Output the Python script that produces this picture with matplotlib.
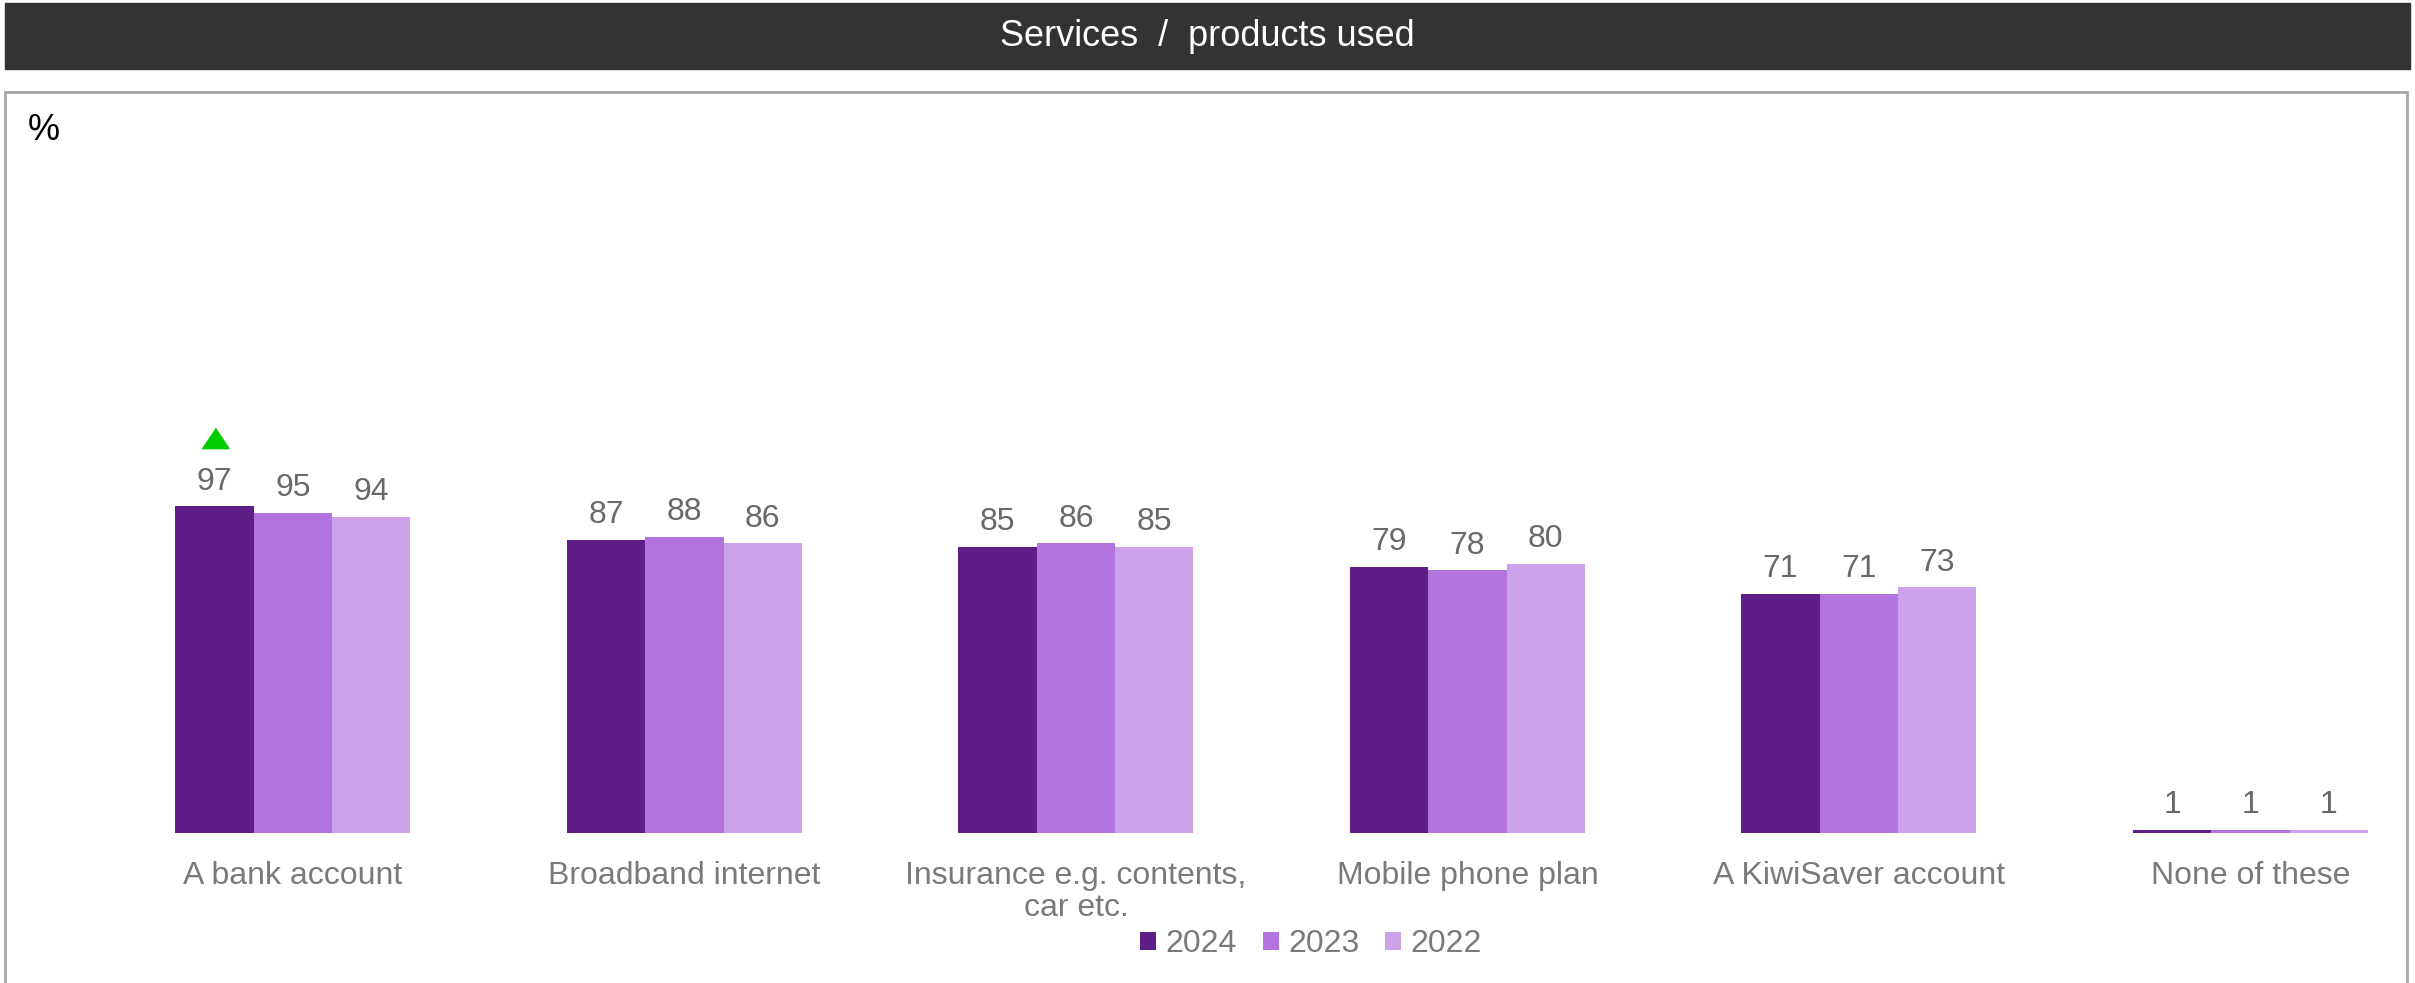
import numpy as np
import matplotlib
matplotlib.use("Agg")
import matplotlib.pyplot as plt
from matplotlib.patches import Rectangle
from matplotlib.transforms import offset_copy

plt.rcParams["font.family"] = ["Liberation Sans", "DejaVu Sans"]

# ── Data ──────────────────────────────────────────────────────────────────
categories = ["A bank account", "Broadband internet",
              "Insurance e.g. contents,\ncar etc.", "Mobile phone plan",
              "A KiwiSaver account", "None of these"]
years = ["2024", "2023", "2022"]
vals_2024 = [97, 87, 85, 79, 71, 1]
vals_2023 = [95, 88, 86, 78, 71, 1]
vals_2022 = [94, 86, 85, 80, 73, 1]
sig_up_2024 = [True, False, False, False, False, False]   # green triangle

colors = ["#5F1E87", "#B474E0", "#CDA2EA"]
num_color = "#696969"
cat_color = "#7A7A7A"

W, H = 2415, 983
fig = plt.figure(figsize=(W / 100, H / 100), dpi=100)

# ── Title bar and panel frame ─────────────────────────────────────────────
fig.patches.append(Rectangle((5 / W, 1 - 69 / H), 2405 / W, 66 / H,
                             transform=fig.transFigure, color="#333333",
                             zorder=0))
fig.text(0.5, 1 - 36 / H, "Services  /  products used", color="white",
         fontsize=26, ha="center", va="center")
fig.patches.append(Rectangle((5 / W, -0.05), 2402 / W, 1.05 - 92 / H,
                             transform=fig.transFigure, fill=False,
                             edgecolor="#A6A6A6", linewidth=2, zorder=0))
fig.text(28 / W, 1 - 131 / H, "%", color="black", fontsize=26,
         ha="left", va="center")

# ── Axes ──────────────────────────────────────────────────────────────────
base_px, top_px = 833, 92
px_per_unit = 3.367
c0_px, step_px = 292.9, 391.5
left_px, right_px = 8, 2405
ax = fig.add_axes([left_px / W, 1 - base_px / H,
                   (right_px - left_px) / W, (base_px - top_px) / H])
ax.set_xlim((left_px - c0_px) / step_px, (right_px - c0_px) / step_px)
ax.set_ylim(0, (base_px - top_px) / px_per_unit)

x = np.arange(len(categories))
width = 0.2
series = [vals_2024, vals_2023, vals_2022]
for i, (vals, col, yr) in enumerate(zip(series, colors, years)):
    xs = x + (i - 1) * width
    ax.bar(xs, vals, width, color=col, label=yr, zorder=2)
    for xi, v in zip(xs, vals):
        ax.annotate(f"{v}", (xi, v), xytext=(0, 12), textcoords="offset points",
                    ha="center", va="baseline", fontsize=23, color=num_color)

# significance marker above the 2024 bar
tri = [(-1, -0.75), (1, -0.75), (0, 0.75)]
tr = offset_copy(ax.transData, fig=fig, x=0, y=49, units="points")
for xi, v, up in zip(x - width, vals_2024, sig_up_2024):
    if up:
        ax.plot([xi], [v], marker=tri, markersize=19.5, color="#00CC00",
                linestyle="none", transform=tr, clip_on=False)

ax.set_xticks(x)
ax.set_xticklabels(categories, fontsize=23, color=cat_color, linespacing=1.1)
ax.tick_params(axis="x", length=0, pad=20)
ax.set_yticks([])
for s in ax.spines.values():
    s.set_visible(False)
ax.patch.set_alpha(0)

leg = fig.legend(loc="center", bbox_to_anchor=(1311 / W, 1 - 944 / H),
                 ncol=3, frameon=False, fontsize=23, handlelength=0.5,
                 handleheight=0.5, handletextpad=0.3, columnspacing=0.8,
                 borderpad=0)
for t in leg.get_texts():
    t.set_color(cat_color)

fig.savefig("out.png", dpi=100)
